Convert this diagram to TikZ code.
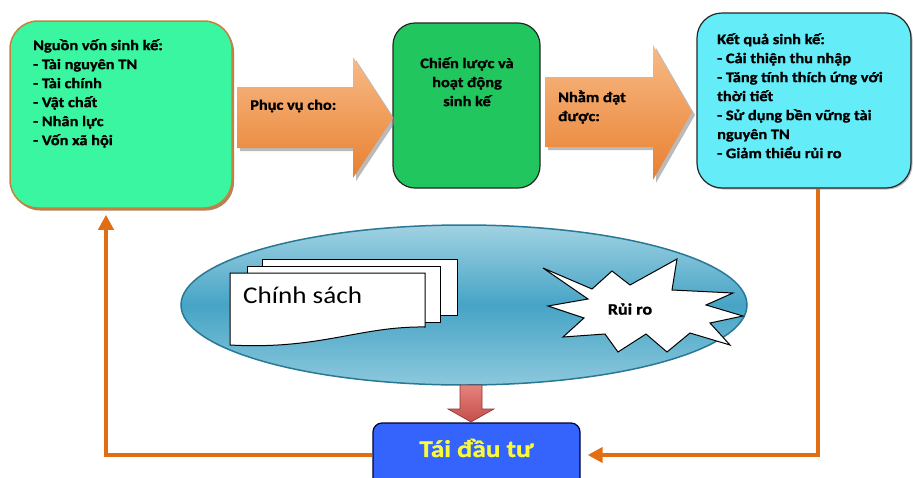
\documentclass[tikz,border=0pt]{standalone}
\usepackage{fontspec}
\setmainfont{Carlito}[FakeStretch=1.13, BoldFeatures={FakeBold=1.2}]
\usetikzlibrary{arrows.meta,shadows,shapes.geometric}
\definecolor{lgreen}{RGB}{58,246,160}
\definecolor{dgreen}{RGB}{33,198,94}
\definecolor{cyanbox}{RGB}{100,236,248}
\definecolor{arrtop}{RGB}{248,186,134}
\definecolor{arrbot}{RGB}{232,128,48}
\definecolor{fborange}{RGB}{226,110,20}
\definecolor{elltop}{RGB}{160,210,226}
\definecolor{ellmid}{RGB}{70,164,198}
\definecolor{ellbot}{RGB}{140,200,220}
\definecolor{ellline}{RGB}{40,120,150}
\definecolor{taiblue}{RGB}{52,100,252}
\definecolor{taiyellow}{RGB}{250,250,60}
\definecolor{redarr}{RGB}{196,78,74}
\definecolor{redtop}{RGB}{230,130,125}
\definecolor{tanline}{RGB}{196,130,60}
\tikzset{
  boxtext/.style={font=\bfseries\fontsize{14.5}{19}\selectfont, align=left, inner sep=0pt},
  flowarrow/.style={top color=arrtop, bottom color=arrbot, draw=none,
     drop shadow={shadow xshift=3pt, shadow yshift=-3pt, fill=black!45, opacity=0.6}},
  fb/.style={draw=fborange, line width=4.5pt, -{Triangle[length=15pt,width=15pt]}},
  sheet/.style={fill=white, draw=black, line width=1pt},
}
\begin{document}
\begin{tikzpicture}[x=1pt,y=-1pt]
\useasboundingbox (0,0) rectangle (913,477);

% left box
\node[draw=tanline, line width=1.5pt, fill=lgreen, rounded corners=28pt,
  minimum width=222pt, minimum height=187pt,
  drop shadow={shadow xshift=2pt, shadow yshift=-2.5pt, fill=brown!80!black, opacity=0.8}]
  (lbox) at (121,114.5) {};
\node[boxtext, anchor=north west] (ltext) at (33,39)
  {Nguồn vốn sinh kế:\\- Tài nguyên TN\\- Tài chính\\- Vật chất\\- Nhân lực\\- Vốn xã hội};

% middle box
\node[draw=black!85, line width=1.2pt, fill=dgreen, rounded corners=22pt,
  minimum width=147pt, minimum height=165pt] (mbox) at (466.5,105.5) {};
\node[boxtext, align=center, anchor=north] (mtext) at (467,57)
  {Chiến lược và\\hoạt động\\sinh kế};

% right box
\node[draw=black!85, line width=1.2pt, fill=cyanbox, rounded corners=25pt,
  minimum width=214pt, minimum height=175pt,
  drop shadow={shadow xshift=1.5pt, shadow yshift=-1.5pt, fill=black!50, opacity=0.5}]
  (rbox) at (804,100.5) {};
\node[boxtext, anchor=north west] (rtext) at (717,33)
  {Kết quả sinh kế:\\- Cải thiện thu nhập\\- Tăng tính thích ứng với\\thời tiết\\- Sử dụng bền vững tài\\nguyên TN\\- Giảm thiểu rủi ro};

% flow arrows
\path[flowarrow] (237,87) -- (353,87) -- (353,57) -- (393,118) -- (353,178) -- (353,148) -- (237,148) -- cycle;
\node[boxtext, anchor=west] (a1text) at (250,106) {Phục vụ cho:};
\path[flowarrow] (545,77) -- (653,77) -- (653,45) -- (692,112) -- (653,180) -- (653,147) -- (545,147) -- cycle;
\node[boxtext, anchor=west] (a2text) at (558,107) {Nhằm đạt\\được:};

% ellipse
\node[ellipse, draw=ellline, line width=1.5pt, top color=elltop, bottom color=ellbot, middle color=ellmid,
  minimum width=566pt, minimum height=160pt] (ell) at (464,305) {};

% policy sheets
\path[sheet] (262,259) rectangle (457,315);
\path[sheet] (247,266) rectangle (440,322);
\path[sheet] (230,273) -- (425,273) -- (425,327) .. controls (360,326) and (320,350) .. (230,345) -- cycle;
\node[font=\fontsize{24}{30}\selectfont, anchor=base west, inner sep=0pt] (cs) at (243,303) {Chính sách};

% starburst
\path[fill=white, draw=black, line width=1pt]
  (543,268) -- (592,289) -- (612,271) -- (630,285) -- (677,259) -- (672,290) -- (733,293) -- (706,305)
  -- (743,316) -- (710,323) -- (730,345) -- (690,333) -- (667,352) -- (646,334) -- (618,352) -- (605,334)
  -- (563,337) -- (584,318) -- (548,306) -- (588,299) -- cycle;
\node[font=\bfseries\fontsize{16}{19}\selectfont, inner sep=0pt] (rr) at (630,309) {Rủi ro};

% reinvest box
\node[draw=black!80!blue, line width=1.2pt, fill=taiblue, rounded corners=9pt,
  minimum width=207pt, minimum height=64pt] (tai) at (476.5,455) {};
\node[font=\bfseries\fontsize{24}{28}\selectfont, text=taiyellow, inner sep=0pt] (taitext) at (476.5,448) {Tái đầu tư};

% red down arrow
\path[top color=redtop, bottom color=redarr, draw=redarr!70!black, line width=0.6pt]
  (460,385) -- (482,385) -- (482,409) -- (494,409) -- (471,422) -- (448,409) -- (460,409) -- cycle;

% feedback lines
\draw[fb, shorten >=6pt] (tai.west) -| ([xshift=-15pt]lbox.south);
\draw[fb, shorten >=7pt] ([xshift=14pt]rbox.south) |- (tai.east);
\end{tikzpicture}
\end{document}
